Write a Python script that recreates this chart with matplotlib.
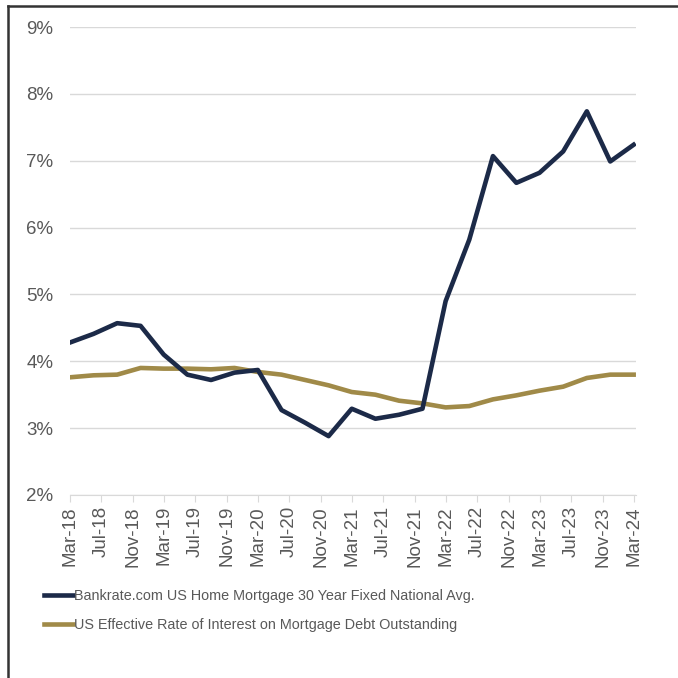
import pandas as pd
import matplotlib
matplotlib.use('Agg')
import matplotlib.pyplot as plt
import matplotlib.dates as mdates
from matplotlib.lines import Line2D
from matplotlib.ticker import FuncFormatter

plt.rcParams['font.family'] = ['Liberation Sans', 'DejaVu Sans']

dates = pd.date_range('2018-03-01', periods=25, freq='3MS')
bankrate = [4.28, 4.41, 4.57, 4.53, 4.10, 3.80, 3.72, 3.83, 3.87, 3.27, 3.08, 2.88, 3.29,
            3.14, 3.20, 3.29, 4.90, 5.82, 7.07, 6.67, 6.82, 7.14, 7.74, 6.99, 7.24]
effective = [3.76, 3.79, 3.80, 3.90, 3.89, 3.89, 3.88, 3.90, 3.84, 3.80, 3.72, 3.64, 3.54,
             3.50, 3.41, 3.37, 3.31, 3.33, 3.43, 3.49, 3.56, 3.62, 3.75, 3.80, 3.80]
labels = ['Bankrate.com US Home Mortgage 30 Year Fixed National Avg.',
          'US Effective Rate of Interest on Mortgage Debt Outstanding']

navy = '#1c2a48'
gold = '#a08a48'
grey_text = '#595959'

fig = plt.figure(figsize=(6.78, 6.78), dpi=100)
ax = fig.add_axes([0.103, 0.270, 0.835, 0.690])

ax.plot(dates, bankrate, color=navy, lw=3.3, zorder=3)
ax.plot(dates, effective, color=gold, lw=3.3, zorder=2)

ax.set_ylim(2, 9)
ax.set_yticks(range(2, 10))
ax.yaxis.set_major_formatter(FuncFormatter(lambda v, p: f'{v:.0f}%'))
ax.set_xlim(pd.Timestamp('2018-03-01'), pd.Timestamp('2024-03-10'))
ax.xaxis.set_major_locator(mdates.MonthLocator(bymonth=(3, 7, 11)))
ax.xaxis.set_major_formatter(mdates.DateFormatter('%b-%y'))

ax.grid(axis='y', color='#d9d9d9', lw=1)
ax.set_axisbelow(True)
for s in ['top', 'right', 'left']:
    ax.spines[s].set_visible(False)
ax.spines['bottom'].set_color('#d9d9d9')
ax.tick_params(axis='y', length=0, labelsize=13.5, labelcolor=grey_text, pad=12)
ax.tick_params(axis='x', length=5, color='#d9d9d9', labelsize=13.5,
               labelcolor=grey_text, labelrotation=90, pad=3)

handles = [Line2D([], [], color=navy, lw=3.3), Line2D([], [], color=gold, lw=3.3)]
fig.legend(handles, labels, loc='upper left', bbox_to_anchor=(0.056, 0.140),
           frameon=False, fontsize=10.4, labelcolor=grey_text,
           handlelength=2.0, handletextpad=0.12, labelspacing=1.05, borderaxespad=0)

# screenshot frame on left and top
fig.add_artist(Line2D([0.012, 0.012], [0, 0.991], color='#333333', lw=1.8))
fig.add_artist(Line2D([0.012, 1.0], [0.991, 0.991], color='#333333', lw=1.8))

fig.savefig('out.png', dpi=100)
